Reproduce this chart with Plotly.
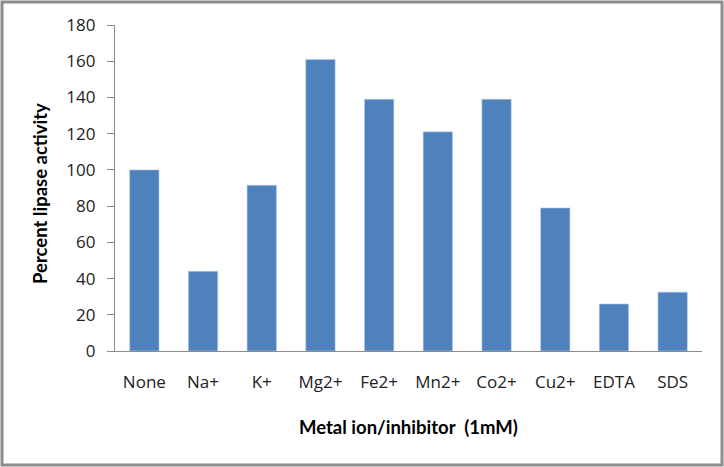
import plotly.graph_objects as go

categories = ["None", "Na+", "K+", "Mg2+", "Fe2+", "Mn2+", "Co2+", "Cu2+", "EDTA", "SDS"]
activity = [100, 44, 91.5, 161, 139, 121, 139, 79, 26, 32.5]
y_ticks = [0, 20, 40, 60, 80, 100, 120, 140, 160, 180]

TICK_FONT = "'Open Sans', sans-serif"
TITLE_FONT = "Lato, 'Open Sans', sans-serif"

W, H = 724, 467
L, R, T, B = 115, 22, 25, 116
PW, PH = W - L - R, H - T - B

fig = go.Figure()
fig.add_trace(go.Bar(
    x=categories, y=activity,
    marker=dict(color="#4F81BD", line=dict(color="#B9CDE5", width=0.6)),
    width=0.5,
))

fig.update_layout(
    width=W, height=H,
    margin=dict(l=L, r=R, t=T, b=B, autoexpand=False),
    paper_bgcolor="white", plot_bgcolor="white",
    showlegend=False,
    font=dict(family=TICK_FONT, size=17, color="#222222"),
    xaxis=dict(
        showline=True, linecolor="#8C8C8C", linewidth=1.2,
        ticks="", showgrid=False, tickfont=dict(size=17),
        ticklabelstandoff=15,
    ),
    yaxis=dict(
        range=[0, 180], tickvals=y_ticks, showgrid=False,
        showline=True, linecolor="#8C8C8C", linewidth=1.2,
        ticks="outside", ticklen=7, tickcolor="#8C8C8C",
        tickfont=dict(size=17), zeroline=False,
        ticklabelstandoff=8,
    ),
    annotations=[
        dict(text="<b>Percent lipase activity</b>", xref="paper", yref="paper",
             x=0, xshift=-75, y=0.5, yshift=-6, xanchor="center", yanchor="middle",
             textangle=-90, showarrow=False,
             font=dict(family=TITLE_FONT, size=18.5, color="#000000")),
        dict(text="<b>Metal ion/inhibitor  (1mM)</b>", xref="paper", yref="paper",
             x=0.5, y=0, yshift=-76, xanchor="center", yanchor="middle",
             showarrow=False,
             font=dict(family=TITLE_FONT, size=18.5, color="#000000")),
    ],
    shapes=[
        dict(type="rect", xref="paper", yref="paper",
             x0=-(L - 2) / PW, x1=1 + (R - 2) / PW,
             y0=-(B - 2) / PH, y1=1 + (T - 2) / PH,
             line=dict(color="#8C8C8C", width=3), fillcolor="rgba(0,0,0,0)",
             layer="above"),
    ],
)

fig.write_html("out.html", config={"displayModeBar": False},
               post_script="document.body.style.margin='0';")
